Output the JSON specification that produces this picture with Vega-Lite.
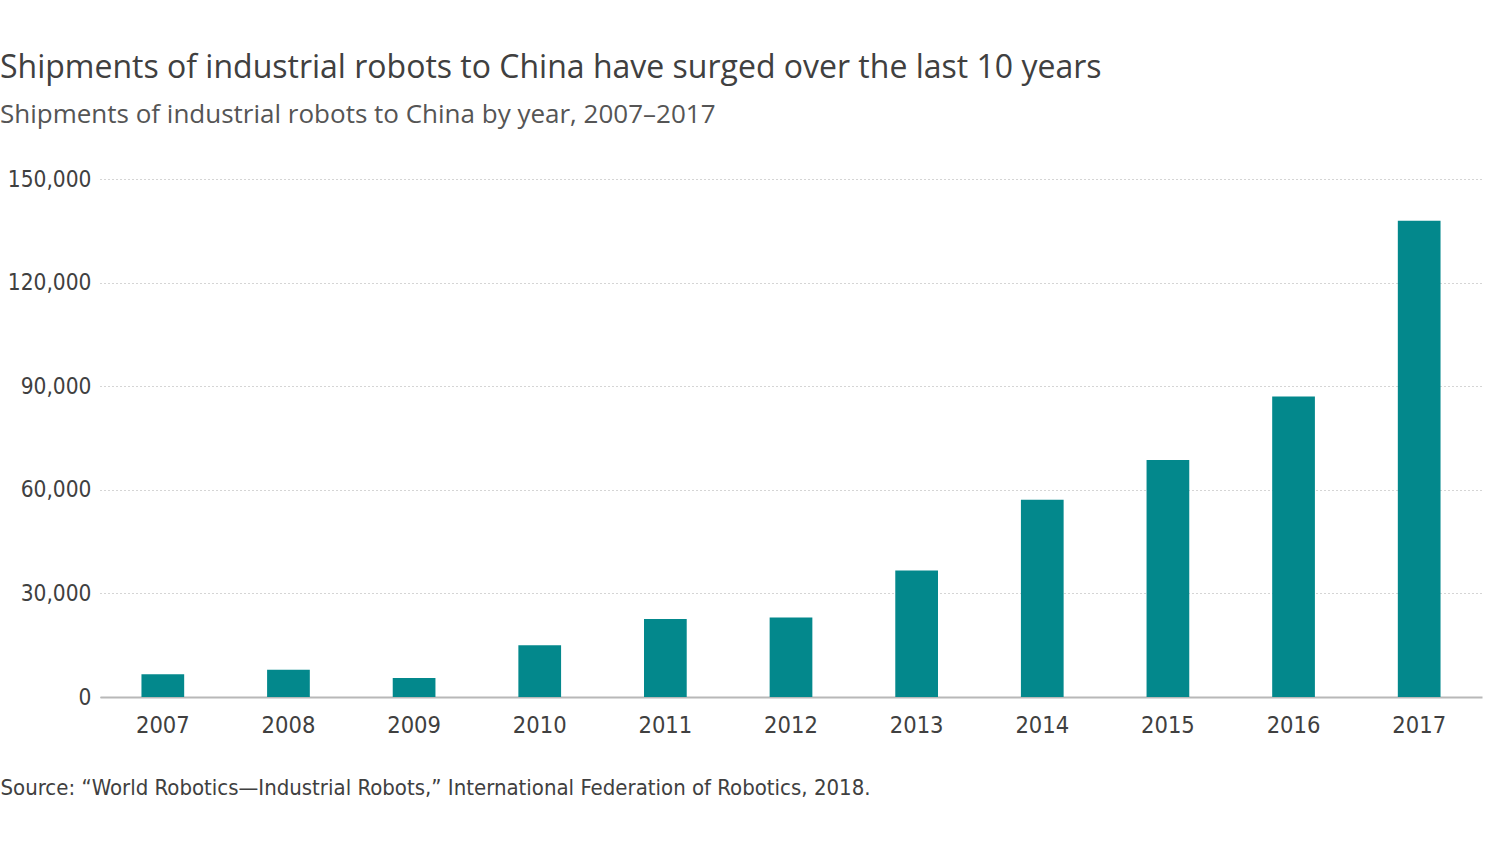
{
  "$schema": "https://vega.github.io/schema/vega-lite/v6.json",
  "width": 1382,
  "height": 518,
  "autosize": {"type": "none"},
  "padding": {"left": 100, "top": 179, "right": 22, "bottom": 153},
  "background": "white",
  "title": {
    "text": "Shipments of industrial robots to China have surged over the last 10 years",
    "subtitle": "Shipments of industrial robots to China by year, 2007–2017",
    "anchor": "start",
    "frame": "group",
    "dx": -100,
    "offset": 39,
    "font": "Open Sans",
    "fontSize": 32,
    "fontWeight": "normal",
    "color": "#404040",
    "subtitleFont": "Open Sans",
    "subtitleFontSize": 26,
    "subtitleColor": "#555555",
    "subtitlePadding": 17
  },
  "data": {
    "values": [
      {"year": "2007", "shipments": 6600},
      {"year": "2008", "shipments": 7900},
      {"year": "2009", "shipments": 5500},
      {"year": "2010", "shipments": 15000},
      {"year": "2011", "shipments": 22600},
      {"year": "2012", "shipments": 23000},
      {"year": "2013", "shipments": 36600},
      {"year": "2014", "shipments": 57100},
      {"year": "2015", "shipments": 68600},
      {"year": "2016", "shipments": 87000},
      {"year": "2017", "shipments": 137900}
    ]
  },
  "mark": {"type": "bar", "color": "#03888c"},
  "encoding": {
    "x": {
      "field": "year",
      "type": "ordinal",
      "scale": {"paddingInner": 0.66, "paddingOuter": 0.33},
      "axis": {
        "title": "Source: “World Robotics—Industrial Robots,” International Federation of Robotics, 2018.",
        "titleX": -100,
        "titleY": 97,
        "titleAlign": "left",
        "titleAnchor": "start",
        "titleBaseline": "alphabetic",
        "titleFont": "DejaVu Sans Condensed",
        "titleFontSize": 22,
        "titleFontWeight": "normal",
        "titleColor": "#404040",
        "labelAngle": 0,
        "labelFont": "DejaVu Sans Condensed",
        "labelFontSize": 23.5,
        "labelColor": "#404040",
        "labelPadding": 16,
        "ticks": false,
        "domainColor": "#b8b8b8",
        "domainWidth": 2
      }
    },
    "y": {
      "field": "shipments",
      "type": "quantitative",
      "scale": {"domain": [0, 150000], "nice": false},
      "axis": {
        "title": null,
        "values": [0, 30000, 60000, 90000, 120000, 150000],
        "format": ",d",
        "labelFont": "DejaVu Sans Condensed",
        "labelFontSize": 22.5,
        "labelColor": "#404040",
        "labelPadding": 9,
        "ticks": false,
        "domain": false,
        "grid": true,
        "gridColor": "#aaaaaa",
        "gridDash": [1, 3],
        "gridWidth": 1
      }
    }
  },
  "config": {
    "view": {"stroke": null},
    "axisY": {"zindex": 0},
    "axisX": {"zindex": 1}
  }
}
